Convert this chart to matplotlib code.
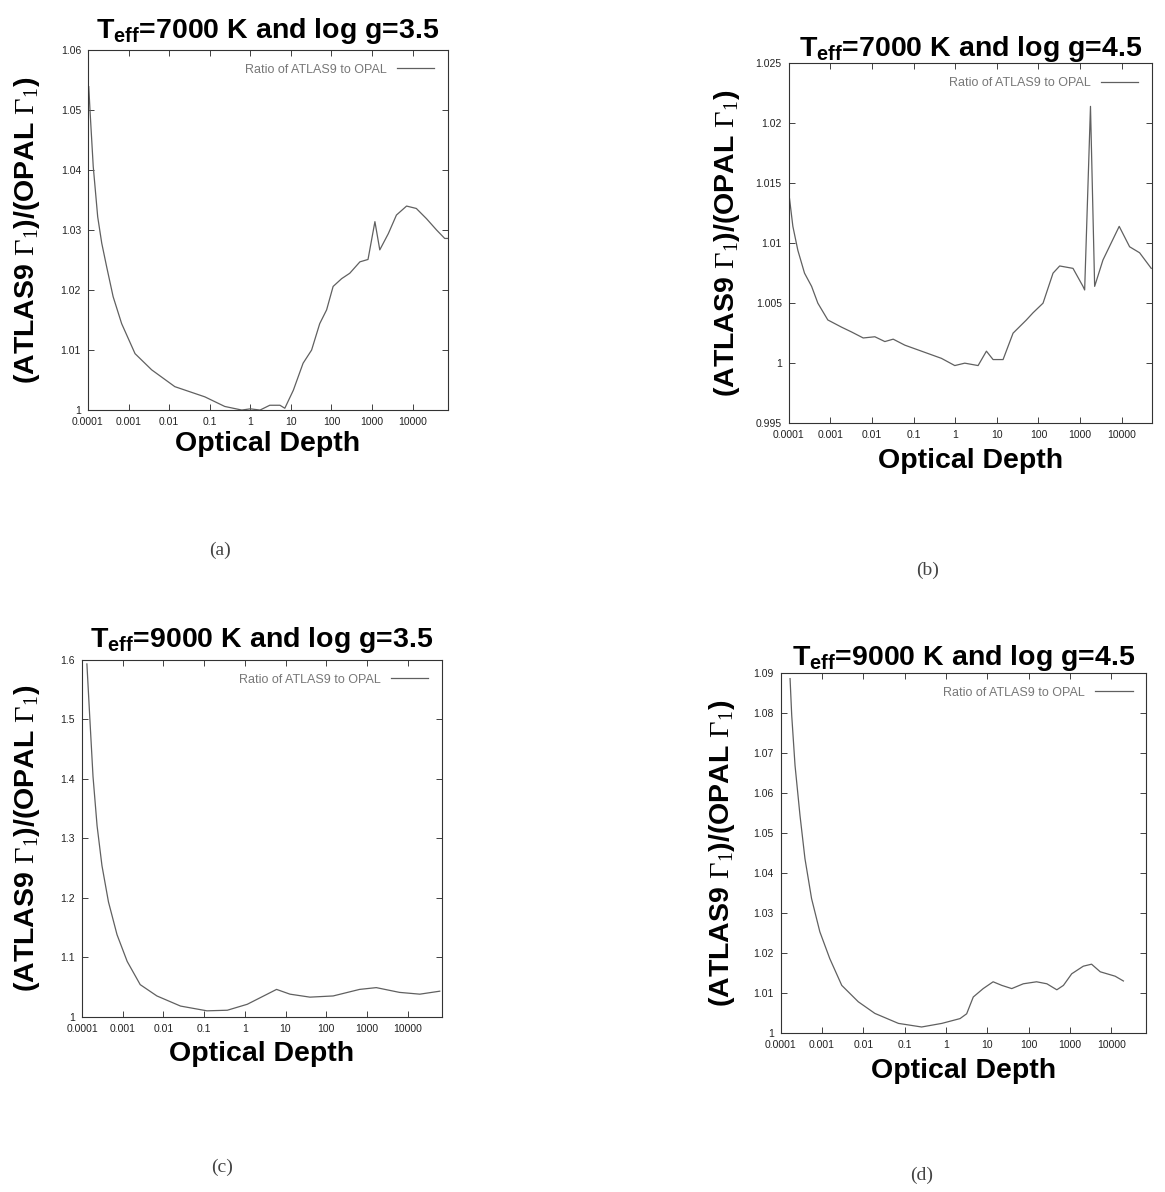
import numpy as np
import matplotlib
matplotlib.use("Agg")
from matplotlib import pyplot as plt
from matplotlib.ticker import FixedLocator, FixedFormatter, FuncFormatter, NullLocator

plt.rcParams['font.family'] = ['Liberation Sans', 'DejaVu Sans']
plt.rcParams['mathtext.fontset'] = 'custom'
plt.rcParams['mathtext.rm'] = 'Liberation Serif'
plt.rcParams['mathtext.bf'] = 'Liberation Sans:bold'

# log10(optical depth) and Gamma_1 ratio
logtau_a = [-3.98, -3.95, -3.87, -3.76, -3.66, -3.54, -3.38, -3.17, -2.84, -2.43, -1.86,
            -1.12, -0.63, -0.21, 0.0, 0.24, 0.48, 0.73, 0.85, 1.06, 1.30, 1.51, 1.71,
            1.88, 2.04, 2.25, 2.45, 2.70, 2.90, 3.07, 3.19, 3.40, 3.60, 3.85, 4.09,
            4.34, 4.59, 4.79, 4.87]
ratio_a = [1.0539, 1.0500, 1.0406, 1.0322, 1.0278, 1.0239, 1.0189, 1.0144, 1.0094, 1.0067,
           1.0039, 1.0022, 1.0006, 1.0000, 1.0002, 1.0000, 1.0008, 1.0008, 1.0003, 1.0033,
           1.0078, 1.0100, 1.0144, 1.0167, 1.0206, 1.0219, 1.0228, 1.0247, 1.0251, 1.0314,
           1.0267, 1.0294, 1.0325, 1.0340, 1.0336, 1.0319, 1.0300, 1.0286, 1.0286]

logtau_b = [-3.98, -3.90, -3.78, -3.62, -3.45, -3.30, -3.06, -2.73, -2.49, -2.21, -1.93,
            -1.69, -1.49, -1.21, -0.73, -0.33, -0.01, 0.23, 0.55, 0.75, 0.91, 1.15, 1.39,
            1.71, 1.87, 2.11, 2.35, 2.51, 2.83, 3.07, 3.11, 3.25, 3.35, 3.55, 3.94, 4.19,
            4.43, 4.71]
ratio_b = [1.0137, 1.0114, 1.0094, 1.0075, 1.0064, 1.0050, 1.0036, 1.0030, 1.0026, 1.0021,
           1.0022, 1.0018, 1.0020, 1.0015, 1.0009, 1.0004, 0.9998, 1.0000, 0.9998, 1.0010,
           1.0003, 1.0003, 1.0025, 1.0036, 1.0042, 1.0050, 1.0075, 1.0081, 1.0079, 1.0064,
           1.0061, 1.0214, 1.0064, 1.0086, 1.0114, 1.0097, 1.0092, 1.0079]

logtau_c = [-3.88, -3.81, -3.73, -3.63, -3.51, -3.35, -3.14, -2.89, -2.57, -2.16, -1.58,
            -0.93, -0.43, 0.06, 0.55, 0.78, 1.11, 1.60, 2.17, 2.82, 3.23, 3.80, 4.30, 4.79]
ratio_c = [1.593, 1.504, 1.404, 1.321, 1.254, 1.193, 1.138, 1.093, 1.054, 1.035, 1.018,
           1.010, 1.011, 1.021, 1.038, 1.046, 1.038, 1.033, 1.035, 1.046, 1.049, 1.041,
           1.038, 1.043]

logtau_d = [-3.77, -3.73, -3.65, -3.53, -3.41, -3.25, -3.05, -2.81, -2.52, -2.12, -1.72,
            -1.15, -0.59, -0.10, 0.34, 0.50, 0.66, 0.90, 1.14, 1.35, 1.59, 1.87, 2.19,
            2.44, 2.68, 2.84, 3.04, 3.32, 3.52, 3.73, 4.09, 4.29]
ratio_d = [1.0886, 1.0794, 1.0669, 1.0544, 1.0436, 1.0336, 1.0253, 1.0186, 1.0119, 1.0078,
           1.0049, 1.0024, 1.0015, 1.0024, 1.0036, 1.0048, 1.0090, 1.0111, 1.0128, 1.0119,
           1.0111, 1.0123, 1.0128, 1.0123, 1.0108, 1.0119, 1.0148, 1.0167, 1.0172, 1.0153,
           1.0142, 1.0130]

xticks = [1e-4, 1e-3, 1e-2, 1e-1, 1, 10, 100, 1000, 10000]
xticklabels = ["0.0001", "0.001", "0.01", "0.1", "1", "10", "100", "1000", "10000"]

panels = [
    (logtau_a, ratio_a, "7000", "3.5", (1.0, 1.06), np.arange(1.0, 1.0601, 0.01), 7.4e4),
    (logtau_b, ratio_b, "7000", "4.5", (0.995, 1.025), np.arange(0.995, 1.0251, 0.005), 5.4e4),
    (logtau_c, ratio_c, "9000", "3.5", (1.0, 1.6), np.arange(1.0, 1.601, 0.1), 7.0e4),
    (logtau_d, ratio_d, "9000", "4.5", (1.0, 1.09), np.arange(1.0, 1.0901, 0.01), 7.0e4),
]
rects = [
    [0.0755, 0.656, 0.309, 0.302],
    [0.677, 0.645, 0.312, 0.302],
    [0.0704, 0.147, 0.309, 0.2995],
    [0.670, 0.1334, 0.314, 0.302],
]
title_pad = [9, 5, 9, 6]
ylab_x = [-0.17, -0.171, -0.153, -0.161]
xlab_y = [-0.058, -0.069, -0.067, -0.069]
captions = ["(a)", "(b)", "(c)", "(d)"]
cap_pos = [(220, 550), (928, 570), (222, 1167), (922, 1175)]

fig = plt.figure(figsize=(11.65, 11.92), dpi=100)

for i, (lt, r, teff, logg, ylim, yt, xmax) in enumerate(panels):
    ax = fig.add_axes(rects[i])
    ax.plot(10 ** np.array(lt), r, color='#606060', lw=0.9,
            label="Ratio of ATLAS9 to OPAL")
    ax.set_xscale('log')
    ax.set_xlim(1e-4, xmax)
    ax.set_ylim(*ylim)
    ax.xaxis.set_major_locator(FixedLocator(xticks))
    ax.xaxis.set_major_formatter(FixedFormatter(xticklabels))
    ax.xaxis.set_minor_locator(NullLocator())
    ax.set_yticks(yt)
    ax.yaxis.set_major_formatter(FuncFormatter(lambda v, p: "%g" % round(v, 4)))
    ax.tick_params(direction='in', top=True, right=True, length=4, width=0.6,
                   labelsize=7.5, colors='#222222', pad=5)
    for s in ax.spines.values():
        s.set_linewidth(0.8)
        s.set_color('#333333')
    ax.set_title(r"$\mathbf{T_{eff}}$=" + teff + " K and log g=" + logg,
                 fontsize=20.5, fontweight='bold', pad=title_pad[i])
    ax.set_xlabel("Optical Depth", fontsize=20.5, fontweight='bold')
    ax.xaxis.set_label_coords(0.5, xlab_y[i])
    ax.set_ylabel(r"(ATLAS9 $\Gamma_1$)/(OPAL $\Gamma_1$)", fontsize=20.5,
                  fontweight='bold', va='center')
    ax.yaxis.set_label_coords(ylab_x[i], 0.5)
    leg = ax.legend(loc='upper right', frameon=False, fontsize=9, markerfirst=False,
                    handlelength=3.0, borderaxespad=0.7)
    for t in leg.get_texts():
        t.set_color('#777777')
    fig.text(cap_pos[i][0] / 1165, 1 - cap_pos[i][1] / 1192, captions[i],
             ha='center', va='center', fontsize=14, family='Liberation Serif',
             color='#444444')

fig.savefig("out.png", dpi=100)
